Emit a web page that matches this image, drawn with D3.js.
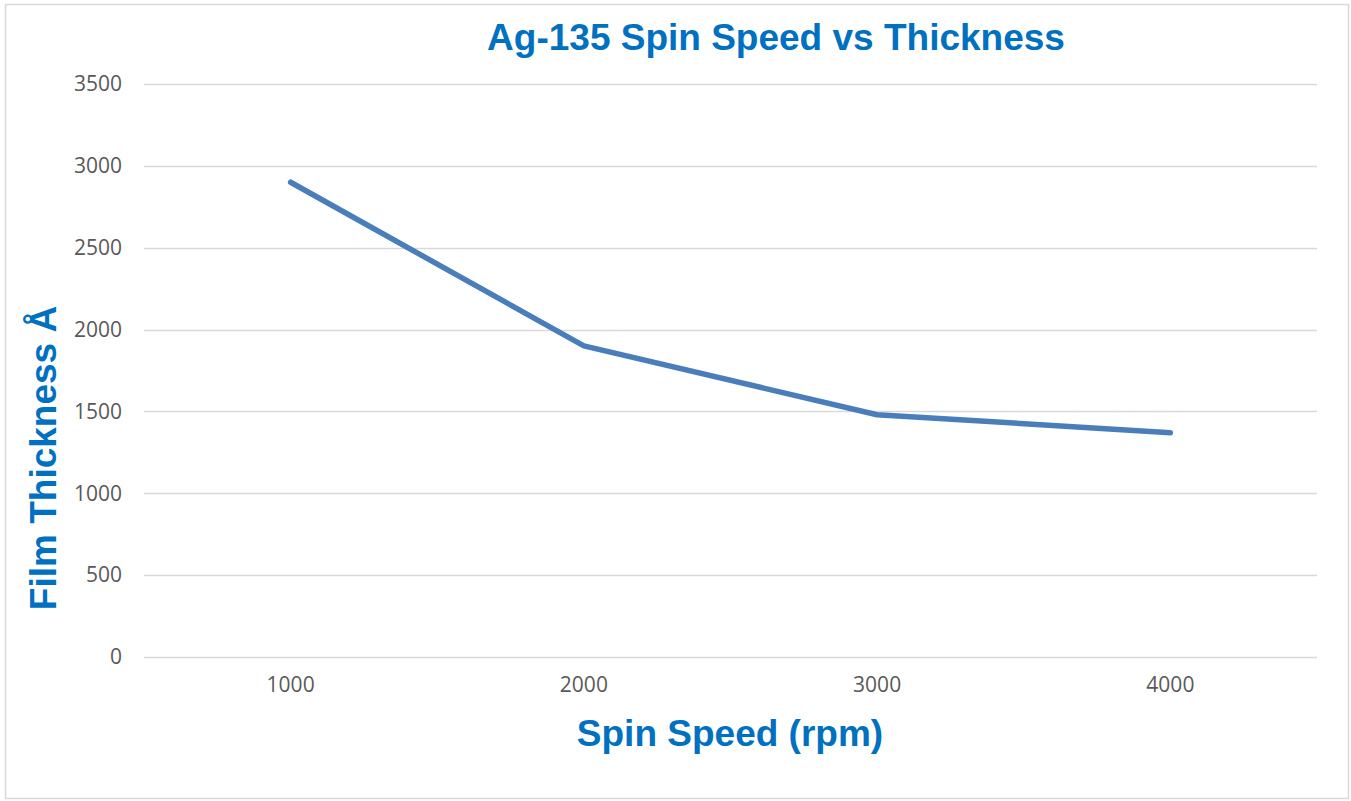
<!DOCTYPE html>
<html>
<head>
<meta charset="utf-8">
<script src="https://cdn.jsdelivr.net/npm/d3@7"></script>
<style>
  body { margin: 0; background: #fff; }
  svg { display: block; }
</style>
</head>
<body>
<div id="chart"></div>
<script>
(function() {
    'use strict';

    // spin speed (rpm) categories and measured film thickness
    const speeds = ["1000", "2000", "3000", "4000"];
    const thickness = [2900, 1900, 1480, 1370];
    const yTicks = [0, 500, 1000, 1500, 2000, 2500, 3000, 3500];

    const width = 1351;
    const height = 801;
    const margin = { top: 84, right: 34, bottom: 144, left: 144 };

    const svg = d3.select("#chart")
        .append("svg")
        .attr("width", width)
        .attr("height", height);

    // chart border
    svg.append("rect")
        .attr("x", 5.5)
        .attr("y", 4.5)
        .attr("width", 1343)
        .attr("height", 794)
        .attr("fill", "#fff")
        .attr("stroke", "#d9d9d9")
        .attr("stroke-width", 1.5);

    const x = d3.scaleBand()
        .domain(speeds)
        .range([margin.left, width - margin.right]);

    const y = d3.scaleLinear()
        .domain([0, 3500])
        .range([height - margin.bottom, margin.top]);

    // gridlines
    svg.append("g")
        .selectAll("line")
        .data(yTicks)
        .enter()
        .append("line")
        .attr("x1", margin.left)
        .attr("x2", width - margin.right)
        .attr("y1", d => Math.round(y(d)) + 0.5)
        .attr("y2", d => Math.round(y(d)) + 0.5)
        .attr("stroke", "#d9d9d9")
        .attr("stroke-width", 1.5);

    const tickFont = "'Open Sans', 'Liberation Sans', sans-serif";

    // y axis labels
    const yAxis = svg.append("g")
        .attr("transform", `translate(${margin.left},0)`)
        .call(d3.axisLeft(y).tickValues(yTicks).tickFormat(d3.format("d")).tickSize(0).tickPadding(22));
    yAxis.select(".domain").remove();
    yAxis.selectAll("text")
        .attr("fill", "#595959")
        .style("font-family", tickFont)
        .style("font-size", "21px");

    // x axis labels
    const xAxis = svg.append("g")
        .attr("transform", `translate(0,${height - margin.bottom})`)
        .call(d3.axisBottom(x).tickSize(0).tickPadding(20));
    xAxis.select(".domain").remove();
    xAxis.selectAll("text")
        .attr("fill", "#595959")
        .style("font-family", tickFont)
        .style("font-size", "21px");

    // the line
    const line = d3.line()
        .x((d, i) => x(speeds[i]) + x.bandwidth() / 2)
        .y(d => y(d));

    svg.append("path")
        .datum(thickness)
        .attr("d", line)
        .attr("fill", "none")
        .attr("stroke", "#4a7ebb")
        .attr("stroke-width", 5.5)
        .attr("stroke-linecap", "round")
        .attr("stroke-linejoin", "round");

    // titles
    const titleFont = "'Liberation Sans', Arial, sans-serif";

    svg.append("text")
        .attr("x", 776)
        .attr("y", 50)
        .attr("text-anchor", "middle")
        .attr("fill", "#0070c0")
        .style("font-family", titleFont)
        .style("font-weight", "bold")
        .style("font-size", "37px")
        .text("Ag-135 Spin Speed vs Thickness");

    svg.append("text")
        .attr("x", 730)
        .attr("y", 746)
        .attr("text-anchor", "middle")
        .attr("fill", "#0070c0")
        .style("font-family", titleFont)
        .style("font-weight", "bold")
        .style("font-size", "37px")
        .text("Spin Speed (rpm)");

    svg.append("text")
        .attr("transform", "translate(56,458) rotate(-90)")
        .attr("text-anchor", "middle")
        .attr("fill", "#0070c0")
        .style("font-family", titleFont)
        .style("font-weight", "bold")
        .style("font-size", "37px")
        .text("Film Thickness Å");

})();
</script>
</body>
</html>
